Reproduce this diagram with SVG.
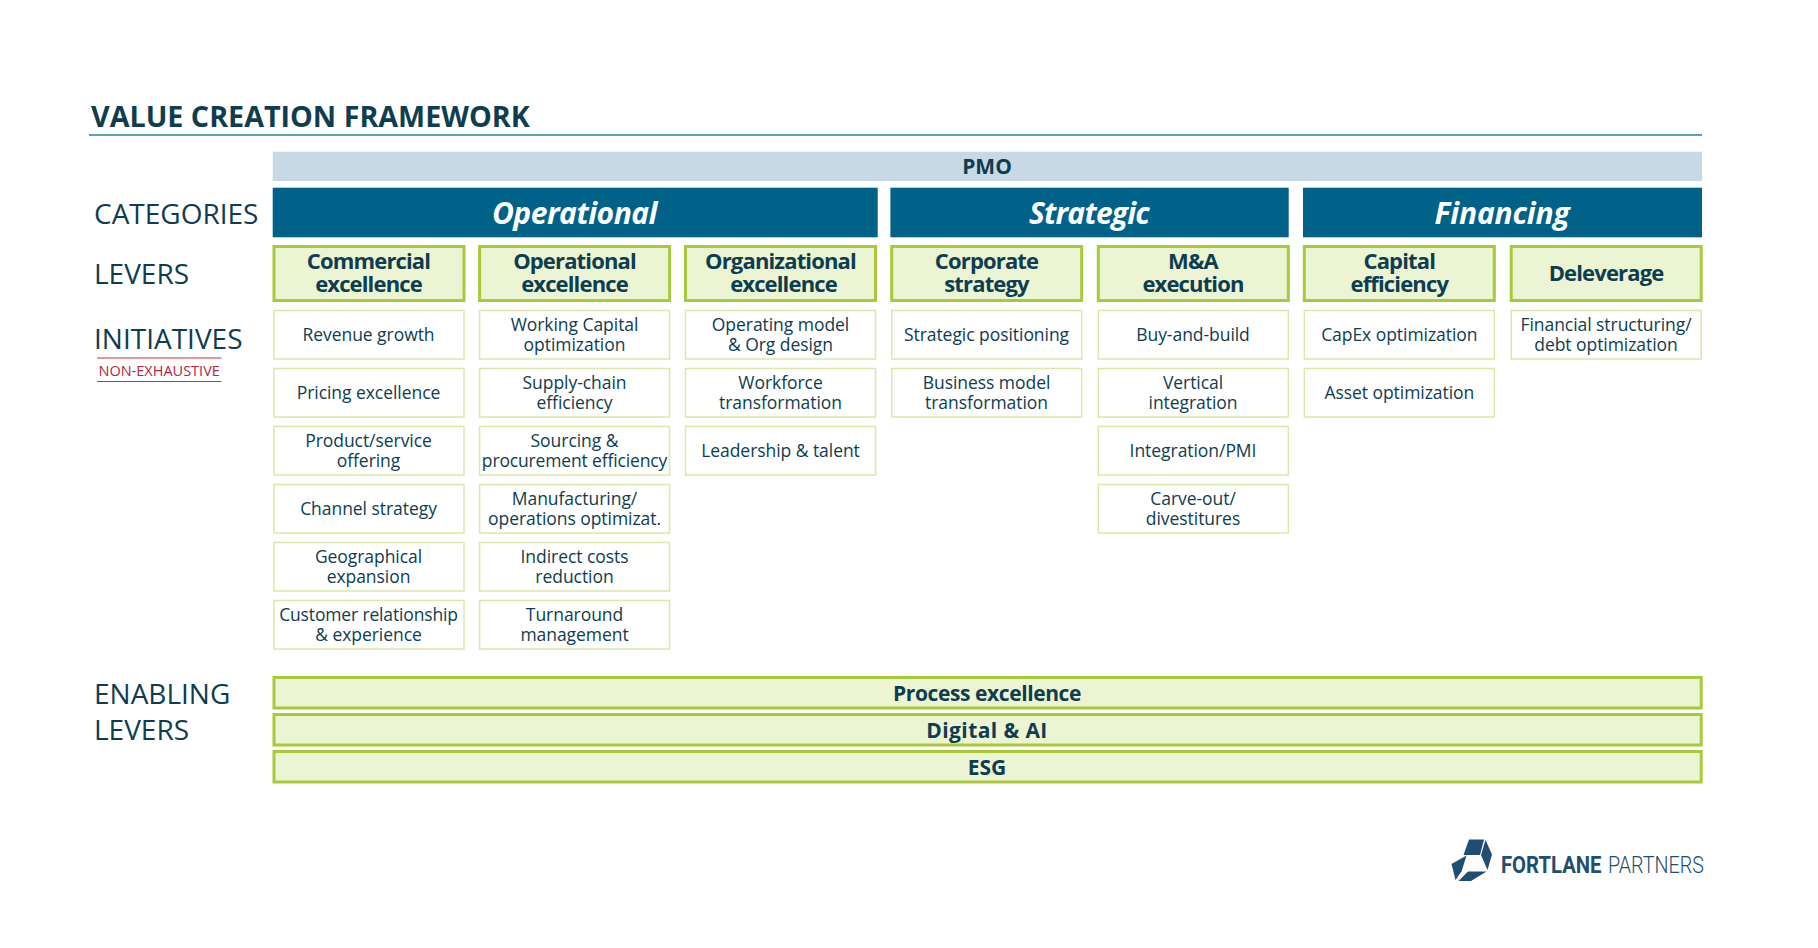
<svg xmlns="http://www.w3.org/2000/svg" width="1818" height="948" viewBox="0 0 1818 948">
<style>
text{font-family:"Open Sans","Noto Sans","Liberation Sans",sans-serif;fill:#0f3d50}
.m{text-anchor:middle}
.side{font-size:28px;fill:#0f3d50}
.pmo{fill:#c8d9e6}
.cat{fill:#006288}
.catt{font-size:30px;font-weight:700;font-style:italic;fill:#fff;text-anchor:middle;letter-spacing:-.5px}
.lev{fill:#ebf4d3;stroke:#a8c93a;stroke-width:3}
.levt{font-size:22px;font-weight:700;text-anchor:middle;letter-spacing:-.85px}
.ini{fill:#fff;stroke:#dbe8ab;stroke-width:1.5}
.init{font-size:17.5px;text-anchor:middle;letter-spacing:-.05px}
.en{font-size:21px;font-weight:700;text-anchor:middle}
.logo{fill:#1f4e72}
.lt{font-family:Roboto,sans-serif;fill:#1f4e72;font-size:23px}
</style>
<rect width="1818" height="948" fill="#fff"/>
<g id="title">
<text x="91" y="126.500" font-size="28.700" font-weight="700">VALUE CREATION FRAMEWORK</text>
<line x1="89" y1="135" x2="1702" y2="135" stroke="#2e7d9a" stroke-width="1.6"/>
</g>
<g id="side-labels">
<text class="side" x="94" y="224">CATEGORIES</text>
<text class="side" x="94" y="284">LEVERS</text>
<text class="side" x="94" y="349">INITIATIVES</text>
<line x1="97" y1="358" x2="221.500" y2="358" stroke="#c0334a" stroke-width="1.2"/>
<text x="98.500" y="375.500" font-size="14.500" style="fill:#b5263c">NON-EXHAUSTIVE</text>
<line x1="97" y1="381.500" x2="221.500" y2="381.500" stroke="#c0334a" stroke-width="1.2"/>
<text class="side" x="94" y="704">ENABLING</text>
<text class="side" x="94" y="740">LEVERS</text>
</g>
<g id="pmo"><rect class="pmo" x="272.700" y="151.700" width="1429.300" height="29.300"/><text class="m" x="987" y="174" font-size="21" font-weight="700">PMO</text></g>
<g id="cat-operational"><rect class="cat" x="272.700" y="187.700" width="605" height="49.600"/><text class="catt" x="574.500" y="224">Operational</text></g>
<g id="cat-strategic"><rect class="cat" x="890.400" y="187.700" width="398.300" height="49.600"/><text class="catt" x="1089" y="224" style="letter-spacing:-.8px">Strategic</text></g>
<g id="cat-financing"><rect class="cat" x="1303" y="187.700" width="399" height="49.600"/><text class="catt" x="1502" y="224" style="letter-spacing:-.2px">Financing</text></g>

<g id="lever-commercial"><rect class="lev" x="274" y="246.500" width="190" height="54"/><text class="levt" x="368.500" y="268.500">Commercial</text><text class="levt" x="368.500" y="291.500">excellence</text></g>
<g id="lever-operational"><rect class="lev" x="479.600" y="246.500" width="190" height="54"/><text class="levt" x="574.500" y="268.500">Operational</text><text class="levt" x="574.500" y="291.500">excellence</text></g>
<g id="lever-organizational"><rect class="lev" x="685.500" y="246.500" width="190" height="54"/><text class="levt" x="780.500" y="268.500">Organizational</text><text class="levt" x="783.500" y="291.500">excellence</text></g>
<g id="lever-corporate"><rect class="lev" x="891.700" y="246.500" width="190" height="54"/><text class="levt" x="986.500" y="268.500">Corporate</text><text class="levt" x="986.500" y="291.500">strategy</text></g>
<g id="lever-ma"><rect class="lev" x="1098.300" y="246.500" width="190" height="54"/><text class="levt" x="1193" y="268.500">M&amp;A</text><text class="levt" x="1193" y="291.500">execution</text></g>
<g id="lever-capital"><rect class="lev" x="1304.300" y="246.500" width="190" height="54"/><text class="levt" x="1399.300" y="268.500">Capital</text><text class="levt" x="1399.300" y="291.500">efficiency</text></g>
<g id="lever-deleverage"><rect class="lev" x="1511.200" y="246.500" width="190" height="54"/><text class="levt" x="1606" y="281">Deleverage</text></g>

<g id="ini-1-1"><rect class="ini" x="274" y="310.500" width="190" height="48.500"/><text class="init" x="368.500" y="340.500">Revenue growth</text></g>
<g id="ini-1-2"><rect class="ini" x="274" y="368.500" width="190" height="48.500"/><text class="init" x="368.500" y="398.500">Pricing excellence</text></g>
<g id="ini-1-3"><rect class="ini" x="274" y="426.500" width="190" height="48.500"/><text class="init" x="368.500" y="446.500">Product/service</text><text class="init" x="368.500" y="467">offering</text></g>
<g id="ini-1-4"><rect class="ini" x="274" y="484.500" width="190" height="48.500"/><text class="init" x="368.500" y="514.500">Channel strategy</text></g>
<g id="ini-1-5"><rect class="ini" x="274" y="542.500" width="190" height="48.500"/><text class="init" x="368.500" y="562.500">Geographical</text><text class="init" x="368.500" y="583">expansion</text></g>
<g id="ini-1-6"><rect class="ini" x="274" y="600.500" width="190" height="48.500"/><text class="init" x="368.500" y="620.500" style="letter-spacing:-.15px">Customer relationship</text><text class="init" x="368.500" y="641">&amp; experience</text></g>

<g id="ini-2-1"><rect class="ini" x="479.600" y="310.500" width="190" height="48.500"/><text class="init" x="574.500" y="330.500">Working Capital</text><text class="init" x="574.500" y="351">optimization</text></g>
<g id="ini-2-2"><rect class="ini" x="479.600" y="368.500" width="190" height="48.500"/><text class="init" x="574.500" y="388.500">Supply-chain</text><text class="init" x="574.500" y="409">efficiency</text></g>
<g id="ini-2-3"><rect class="ini" x="479.600" y="426.500" width="190" height="48.500"/><text class="init" x="574.500" y="446.500">Sourcing &amp;</text><text class="init" x="574.500" y="467" style="letter-spacing:-.15px">procurement efficiency</text></g>
<g id="ini-2-4"><rect class="ini" x="479.600" y="484.500" width="190" height="48.500"/><text class="init" x="574.500" y="504.500">Manufacturing/</text><text class="init" x="574.500" y="525">operations optimizat.</text></g>
<g id="ini-2-5"><rect class="ini" x="479.600" y="542.500" width="190" height="48.500"/><text class="init" x="574.500" y="562.500">Indirect costs</text><text class="init" x="574.500" y="583">reduction</text></g>
<g id="ini-2-6"><rect class="ini" x="479.600" y="600.500" width="190" height="48.500"/><text class="init" x="574.500" y="620.500">Turnaround</text><text class="init" x="574.500" y="641">management</text></g>

<g id="ini-3-1"><rect class="ini" x="685.500" y="310.500" width="190" height="48.500"/><text class="init" x="780.500" y="330.500">Operating model</text><text class="init" x="780.500" y="351">&amp; Org design</text></g>
<g id="ini-3-2"><rect class="ini" x="685.500" y="368.500" width="190" height="48.500"/><text class="init" x="780.500" y="388.500">Workforce</text><text class="init" x="780.500" y="409">transformation</text></g>
<g id="ini-3-3"><rect class="ini" x="685.500" y="426.500" width="190" height="48.500"/><text class="init" x="780.500" y="456.500">Leadership &amp; talent</text></g>

<g id="ini-4-1"><rect class="ini" x="891.700" y="310.500" width="190" height="48.500"/><text class="init" x="986.500" y="340.500">Strategic positioning</text></g>
<g id="ini-4-2"><rect class="ini" x="891.700" y="368.500" width="190" height="48.500"/><text class="init" x="986.500" y="388.500">Business model</text><text class="init" x="986.500" y="409">transformation</text></g>

<g id="ini-5-1"><rect class="ini" x="1098.300" y="310.500" width="190" height="48.500"/><text class="init" x="1193" y="340.500">Buy-and-build</text></g>
<g id="ini-5-2"><rect class="ini" x="1098.300" y="368.500" width="190" height="48.500"/><text class="init" x="1193" y="388.500">Vertical</text><text class="init" x="1193" y="409">integration</text></g>
<g id="ini-5-3"><rect class="ini" x="1098.300" y="426.500" width="190" height="48.500"/><text class="init" x="1193" y="456.500">Integration/PMI</text></g>
<g id="ini-5-4"><rect class="ini" x="1098.300" y="484.500" width="190" height="48.500"/><text class="init" x="1193" y="504.500">Carve-out/</text><text class="init" x="1193" y="525">divestitures</text></g>

<g id="ini-6-1"><rect class="ini" x="1304.300" y="310.500" width="190" height="48.500"/><text class="init" x="1399.300" y="340.500">CapEx optimization</text></g>
<g id="ini-6-2"><rect class="ini" x="1304.300" y="368.500" width="190" height="48.500"/><text class="init" x="1399.300" y="398.500">Asset optimization</text></g>

<g id="ini-7-1"><rect class="ini" x="1511.200" y="310.500" width="190" height="48.500"/><text class="init" x="1606" y="330.500">Financial structuring/</text><text class="init" x="1606" y="351">debt optimization</text></g>

<g id="enabling-process"><rect class="lev" x="274" y="677.500" width="1427.200" height="30.500"/><text class="en" x="987" y="700.800" style="letter-spacing:-.4px">Process excellence</text></g>
<g id="enabling-digital"><rect class="lev" x="274" y="714.500" width="1427.200" height="30.500"/><text class="en" x="987" y="737.800" style="letter-spacing:.4px">Digital &amp; AI</text></g>
<g id="enabling-esg"><rect class="lev" x="274" y="751.500" width="1427.200" height="30.500"/><text class="en" x="987" y="774.800">ESG</text></g>

<g id="logo">
<polygon class="logo" points="1469,839.500 1484,839.500 1480,855 1463.500,855"/>
<polygon class="logo" points="1485.500,840 1492,854.500 1487.500,870 1481,855"/>
<polygon class="logo" points="1451.500,864 1466.500,855.500 1461.500,871.500 1455.500,880"/>
<polygon class="logo" points="1458.500,881 1468,871.500 1486.500,871.500 1471,881"/>
<text class="lt" x="1501" y="872.500" font-weight="700" textLength="100.500" lengthAdjust="spacingAndGlyphs">FORTLANE</text>
<text class="lt" x="1608" y="872.500" font-weight="300" textLength="96" lengthAdjust="spacingAndGlyphs">PARTNERS</text>
</g>
</svg>
